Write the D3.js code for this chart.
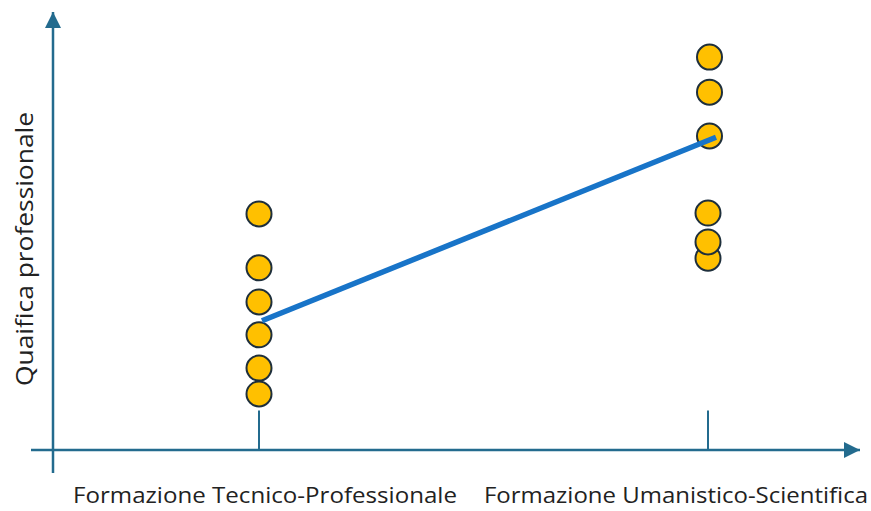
<!DOCTYPE html>
<html><head><meta charset="utf-8">
<script src="https://cdn.jsdelivr.net/npm/d3@7"></script>
<style>body{margin:0;background:#fff}svg{display:block}</style>
</head><body>
<svg id="c" width="871" height="511"></svg>
<script>
const categories = ["Formazione Tecnico-Professionale", "Formazione Umanistico-Scientifica"];
const yLabel = "Quaifica professionale";
const tecnicoValues = [53.9, 41.6, 33.8, 26.3, 18.7, 12.8];
const umanisticoValues = [89.7, 81.7, 71.7, 54.1, 43.8, 47.5];
const trendValues = [29.5, 73.0];

const svg = d3.select("#c");
const axisColor = "#236b8e";
const x = d3.scaleLinear().domain([0, 1]).range([259, 708]);
const y = d3.scaleLinear().domain([0, 100]).range([450, 12]);

const defs = svg.append("defs");
defs.append("marker").attr("id","arr").attr("viewBox","0 0 10 10").attr("refX",10).attr("refY",5)
  .attr("markerWidth",16).attr("markerHeight",16).attr("markerUnits","userSpaceOnUse").attr("orient","auto")
  .append("path").attr("d","M0,0 L10,5 L0,10 Z").attr("fill",axisColor);

// axes
svg.append("line").attr("x1",53).attr("x2",53).attr("y1",473).attr("y2",y(100))
  .attr("stroke",axisColor).attr("stroke-width",2.5).attr("marker-end","url(#arr)");
svg.append("line").attr("x1",31).attr("x2",860).attr("y1",y(0)).attr("y2",y(0))
  .attr("stroke",axisColor).attr("stroke-width",2.5).attr("marker-end","url(#arr)");

// ticks
svg.selectAll("line.tick").data(categories).join("line").attr("class","tick")
  .attr("x1",(d,i)=>x(i)).attr("x2",(d,i)=>x(i)).attr("y1",y(0)).attr("y2",y(9))
  .attr("stroke",axisColor).attr("stroke-width",2);

// points
const pts = [];
tecnicoValues.forEach(v=>pts.push({c:0,v, dx:0}));
umanisticoValues.forEach(v=>pts.push({c:1,v, dx: v>60?1.5:0}));
svg.selectAll("circle.pt").data(pts).join("circle").attr("class","pt")
  .attr("cx",d=>x(d.c)+d.dx).attr("cy",d=>y(d.v)).attr("r",12.5)
  .attr("fill","#FFC000").attr("stroke","#1e2f3c").attr("stroke-width",2);

// trend line
svg.append("path").datum(trendValues)
  .attr("d", d3.line().x((d,i)=>x(i)+(i?8:3)).y((d,i)=>y(d - (i?1.6:0))))
  .attr("fill","none").attr("stroke","#1874c8").attr("stroke-width",5.5);

// labels
const font = "'Open Sans', 'Liberation Sans', sans-serif";
svg.selectAll("text.cat").data(categories).join("text").attr("class","cat")
  .attr("x",(d,i)=>[265,676][i]).attr("y",503).attr("text-anchor","middle")
  .attr("font-family",font).attr("font-size",22).attr("fill","#222")
  .attr("textLength",384).attr("lengthAdjust","spacingAndGlyphs").text(d=>d);
svg.append("text").attr("transform","translate(33,249) rotate(-90)").attr("text-anchor","middle")
  .attr("font-family",font).attr("font-size",23).attr("fill","#222")
  .attr("textLength",274).attr("lengthAdjust","spacingAndGlyphs").text(yLabel);
</script>
</body></html>
